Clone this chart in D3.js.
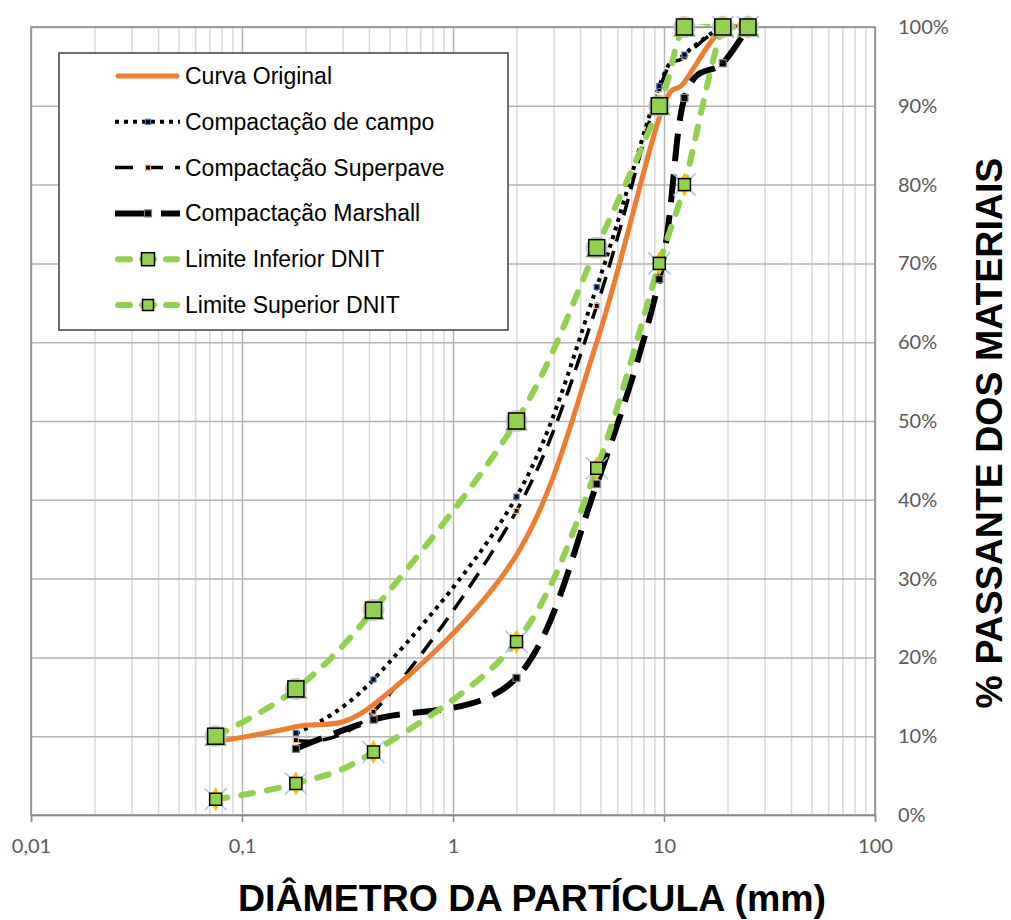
<!DOCTYPE html>
<html>
<head>
<meta charset="utf-8">
<script src="https://cdn.jsdelivr.net/npm/d3@7"></script>
<style>
  body { margin: 0; background: #fff; }
  svg { display: block; }
</style>
</head>
<body>
<div class="canvas"></div>
<script>
// data (sieve sizes in mm, % passing)
const sieveSizes = [0.075, 0.18, 0.42, 2.0, 4.8, 9.5, 12.5, 19, 25];
const curvaOriginal = [9.3, 11.2, 14, 33, 60, 88.5, 93, 100, 100];
const compCampo = [null, 10.4, 17.2, 40.4, 67, 92.5, 96.5, 100, 100];
const compSuperpave = [null, 9.5, 13.1, 38.6, 64.6, 92.1, 96.2, 100, 100];
const compMarshall = [null, 8.4, 12.1, 17.4, 42, 68, 91, 95.4, 100];
const limiteInferior = [2, 4, 8, 22, 44, 70, 80, 100, 100];
const limiteSuperior = [10, 16, 26, 50, 72, 90, 100, 100, 100];

const xTickValues = [0.01, 0.1, 1, 10, 100];
const xTickLabels = ['0,01', '0,1', '1', '10', '100'];
const yTickValues = [0, 0.1, 0.2, 0.3, 0.4, 0.5, 0.6, 0.7, 0.8, 0.9, 1];
const yTickLabels = ['0%', '10%', '20%', '30%', '40%', '50%', '60%', '70%', '80%', '90%', '100%'];

const legendLabels = ['Curva Original', 'Compactação de campo', 'Compactação Superpave',
    'Compactação Marshall', 'Limite Inferior DNIT', 'Limite Superior DNIT'];

const xTitle = 'DIÂMETRO DA PARTÍCULA (mm)';
const yTitle = '% PASSANTE DOS MATERIAIS';

// svg container
const svg = d3.select('.canvas')
    .append('svg')
        .attr('width', 1011)
        .attr('height', 920);

const margin = {top: 27, right: 136, bottom: 105, left: 31};
const graphWidth = 1011 - margin.left - margin.right;
const graphHeight = 920 - margin.top - margin.bottom;

const graph = svg.append('g')
    .attr('transform', `translate(${margin.left}, ${margin.top})`);

// scales
const x = d3.scaleLog()
    .domain([0.01, 100])
    .range([0, graphWidth]);

const y = d3.scaleLinear()
    .domain([0, 1])
    .range([graphHeight, 0]);

const isDecade = d => Math.abs(Math.log10(d) - Math.round(Math.log10(d))) < 1e-9;

// vertical grid (minor + major)
const xGrid = graph.append('g')
    .attr('transform', `translate(0, ${graphHeight})`)
    .call(d3.axisBottom(x).tickValues(x.ticks()).tickSize(-graphHeight).tickFormat(''));
xGrid.select('.domain').remove();
xGrid.selectAll('line')
    .attr('stroke', d => isDecade(d) ? '#b3b3b3' : '#d9d9d9')
    .attr('stroke-width', 1.5);

// horizontal grid
const yGrid = graph.append('g')
    .call(d3.axisLeft(y).tickValues(yTickValues).tickSize(-graphWidth).tickFormat(''));
yGrid.select('.domain').remove();
yGrid.selectAll('line')
    .attr('stroke', '#b3b3b3')
    .attr('stroke-width', 1.5);

// plot border
graph.append('rect')
    .attr('width', graphWidth)
    .attr('height', graphHeight)
    .attr('fill', 'none')
    .attr('stroke', '#8c8c8c')
    .attr('stroke-width', 1.5);

// bottom axis with decade labels
const xAxisGroup = graph.append('g')
    .attr('transform', `translate(0, ${graphHeight})`)
    .call(d3.axisBottom(x)
        .tickValues(xTickValues)
        .tickSize(7)
        .tickPadding(17)
        .tickFormat((d, i) => xTickLabels[i]));
xAxisGroup.select('.domain').attr('stroke', '#8c8c8c').attr('stroke-width', 1.5);
xAxisGroup.selectAll('line').attr('stroke', '#8c8c8c').attr('stroke-width', 1.5);
xAxisGroup.selectAll('text')
    .attr('font-family', 'Lato, sans-serif')
    .attr('font-size', 20)
    .attr('fill', '#595959');

// right axis labels
const yAxisGroup = graph.append('g')
    .attr('transform', `translate(${graphWidth}, 0)`)
    .call(d3.axisRight(y)
        .tickValues(yTickValues)
        .tickSize(0)
        .tickPadding(23)
        .tickFormat((d, i) => yTickLabels[i]));
yAxisGroup.select('.domain').remove();
yAxisGroup.selectAll('text')
    .attr('font-family', 'Lato, sans-serif')
    .attr('font-size', 20)
    .attr('fill', '#595959');

// axis titles
svg.append('text')
    .attr('x', 532)
    .attr('y', 911)
    .attr('text-anchor', 'middle')
    .attr('font-family', '"Liberation Sans", Arial, sans-serif')
    .attr('font-weight', 'bold')
    .attr('font-size', 37.5)
    .text(xTitle);

svg.append('text')
    .attr('transform', 'translate(1002, 433) rotate(-90)')
    .attr('text-anchor', 'middle')
    .attr('font-family', '"Liberation Sans", Arial, sans-serif')
    .attr('font-weight', 'bold')
    .attr('font-size', 37.5)
    .text(yTitle);

// series (smoothed like the spreadsheet lines)
const toPoints = values => sieveSizes.map((s, i) => ({s: s, v: values[i]})).filter(d => d.v != null);

const line = d3.line()
    .x(d => x(d.s))
    .y(d => y(d.v / 100))
    .curve(d3.curveCatmullRom.alpha(0));

svg.append('clipPath')
    .attr('id', 'plot-clip')
    .append('rect')
        .attr('x', -5)
        .attr('y', -3)
        .attr('width', graphWidth + 10)
        .attr('height', graphHeight + 8);

const lines = graph.append('g').attr('clip-path', 'url(#plot-clip)');

const series = [
    {values: compMarshall, color: '#000', width: 6, dash: '28,13', cap: 'butt'},
    {values: compSuperpave, color: '#000', width: 3.5, dash: '17,10', cap: 'butt'},
    {values: compCampo, color: '#000', width: 4, dash: '4,5', cap: 'butt'},
    {values: curvaOriginal, color: '#ed7d31', width: 5, dash: null, cap: 'round'},
    {values: limiteInferior, color: '#92d050', width: 6, dash: '12,14', cap: 'round'},
    {values: limiteSuperior, color: '#92d050', width: 6, dash: '12,14', cap: 'round'}
];

series.forEach(sr => {
    lines.append('path')
        .datum(toPoints(sr.values))
        .attr('d', line)
        .attr('fill', 'none')
        .attr('stroke', sr.color)
        .attr('stroke-width', sr.width)
        .attr('stroke-linecap', sr.cap)
        .attr('stroke-dasharray', sr.dash);
});

// small markers of the compaction series
const smallMarkers = [
    {values: compMarshall, size: 7, fill: '#000', stroke: '#7f7f7f'},
    {values: compSuperpave, size: 5, fill: '#000', stroke: '#f4b183'},
    {values: compCampo, size: 5, fill: '#000', stroke: '#4472c4'}
];
smallMarkers.forEach(m => {
    graph.append('g').selectAll('rect')
        .data(toPoints(m.values))
        .enter()
        .append('rect')
            .attr('x', d => x(d.s) - m.size / 2)
            .attr('y', d => y(d.v / 100) - m.size / 2)
            .attr('width', m.size)
            .attr('height', m.size)
            .attr('fill', m.fill)
            .attr('stroke', m.stroke)
            .attr('stroke-width', 1.2);
});

// lower limit markers: diamond + cross behind a green square
const lowerPts = toPoints(limiteInferior);
const lowerG = graph.append('g');
lowerG.selectAll('path.cross')
    .data(lowerPts)
    .enter()
    .append('path')
        .attr('d', d => {
            const cx = x(d.s), cy = y(d.v / 100), r = 11;
            return `M${cx - r},${cy - r}L${cx + r},${cy + r}M${cx - r},${cy + r}L${cx + r},${cy - r}`;
        })
        .attr('stroke', '#a9c4eb')
        .attr('stroke-width', 1.5);
lowerG.selectAll('path.diamond')
    .data(lowerPts)
    .enter()
    .append('path')
        .attr('d', d3.symbol().type(d3.symbolDiamond).size(170))
        .attr('transform', d => `translate(${x(d.s)}, ${y(d.v / 100)})`)
        .attr('fill', '#ffc000');
lowerG.selectAll('rect')
    .data(lowerPts)
    .enter()
    .append('rect')
        .attr('x', d => x(d.s) - 6)
        .attr('y', d => y(d.v / 100) - 6)
        .attr('width', 12)
        .attr('height', 12)
        .attr('fill', '#92d050')
        .attr('stroke', '#000')
        .attr('stroke-width', 1.5);

// upper limit markers: grey halo + triangle behind a green square
const upperPts = toPoints(limiteSuperior);
const upperG = graph.append('g');
upperG.selectAll('path.tri')
    .data(upperPts)
    .enter()
    .append('path')
        .attr('d', d3.symbol().type(d3.symbolTriangle).size(220))
        .attr('transform', d => `translate(${x(d.s)}, ${y(d.v / 100) + 3})`)
        .attr('fill', '#70ad47');
upperG.selectAll('circle')
    .data(upperPts)
    .enter()
    .append('circle')
        .attr('cx', d => x(d.s))
        .attr('cy', d => y(d.v / 100))
        .attr('r', 11)
        .attr('fill', '#bfbfbf')
        .attr('opacity', 0.85);
upperG.selectAll('rect')
    .data(upperPts)
    .enter()
    .append('rect')
        .attr('x', d => x(d.s) - 8)
        .attr('y', d => y(d.v / 100) - 8)
        .attr('width', 16)
        .attr('height', 16)
        .attr('fill', '#92d050')
        .attr('stroke', '#000')
        .attr('stroke-width', 1.5);

// legend
const legend = svg.append('g')
    .attr('transform', 'translate(59, 53)');

legend.append('rect')
    .attr('width', 449)
    .attr('height', 277)
    .attr('fill', '#fff')
    .attr('stroke', '#404040')
    .attr('stroke-width', 1.5);

const legendStyles = [
    {color: '#ed7d31', width: 5, dash: null, cap: 'round', marker: null},
    {color: '#000', width: 4, dash: '4,5', cap: 'butt', marker: {size: 5, fill: '#000', stroke: '#4472c4'}},
    {color: '#000', width: 3.5, dash: '18,12', cap: 'butt', marker: {size: 5, fill: '#000', stroke: '#f4b183'}},
    {color: '#000', width: 6, dash: '32,14', cap: 'butt', marker: {size: 7, fill: '#000', stroke: '#7f7f7f'}},
    {color: '#92d050', width: 6, dash: '12,12', cap: 'round', marker: {size: 13, fill: '#92d050', stroke: '#000'}},
    {color: '#92d050', width: 6, dash: '12,12', cap: 'round', marker: {size: 11, fill: '#92d050', stroke: '#000'}}
];

const rows = legend.selectAll('g.row')
    .data(legendLabels)
    .enter()
    .append('g')
        .attr('transform', (d, i) => `translate(0, ${23 + i * 45.8})`);

rows.append('line')
    .attr('x1', (d, i) => legendStyles[i].cap === 'round' ? 59 : 56)
    .attr('x2', (d, i) => legendStyles[i].cap === 'round' ? 118 : 121)
    .attr('stroke', (d, i) => legendStyles[i].color)
    .attr('stroke-width', (d, i) => legendStyles[i].width)
    .attr('stroke-linecap', (d, i) => legendStyles[i].cap)
    .attr('stroke-dasharray', (d, i) => legendStyles[i].dash);

rows.filter((d, i) => legendStyles[i].marker)
    .append('rect')
        .each(function (d) {
            const m = legendStyles[legendLabels.indexOf(d)].marker;
            d3.select(this)
                .attr('x', 89 - m.size / 2)
                .attr('y', -m.size / 2)
                .attr('width', m.size)
                .attr('height', m.size)
                .attr('fill', m.fill)
                .attr('stroke', m.stroke)
                .attr('stroke-width', m.size > 8 ? 1.5 : 1.2);
        });

rows.append('text')
    .attr('x', 126)
    .attr('y', 8)
    .attr('font-family', '"Liberation Sans", Arial, sans-serif')
    .attr('font-size', 23)
    .attr('fill', '#000')
    .text(d => d);
</script>
</body>
</html>
